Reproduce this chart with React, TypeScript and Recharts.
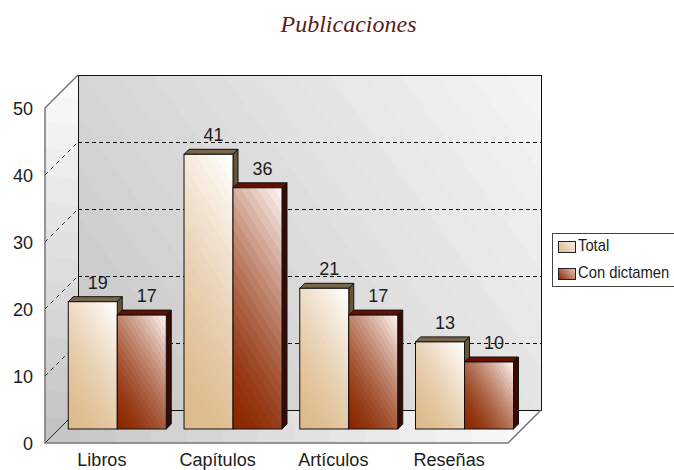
import { BarChart, Bar, XAxis, YAxis, CartesianGrid, Legend, LabelList } from "recharts"

const categories = ["Libros", "Capítulos", "Artículos", "Reseñas"]
const totalValues = [19, 41, 21, 13]
const dictamenValues = [17, 36, 17, 10]
const yTicks = [0, 10, 20, 30, 40, 50]

const data = categories.map((name, i) => ({ name, total: totalValues[i], dictamen: dictamenValues[i] }))

const W = 674
const H = 470
const AXIS_W = 45
const AXIS_H = 27
const margin = { top: 108, right: 166, bottom: 0, left: 0 }
const WALL = 33 // depth of the box
const SHIFT = 14 // bars sit inside the box
const BAR_DEPTH = 5
const FONT = "'Liberation Sans', Arial, sans-serif"
const INK = "#1c1c1c"

const left = AXIS_W
const right = W - margin.right
const top = margin.top
const bottom = H - AXIS_H

function hex(c: number[]) {
  return `rgb(${c.map((v) => Math.round(v)).join(",")})`
}

// banded stops, the original gradients show visible diagonal stripes
function bandStops(from: number[], to: number[], bands: number, gamma = 1) {
  const stops = []
  for (let i = 0; i < bands; i++) {
    const t = Math.pow(i / (bands - 1), gamma)
    const color = hex(from.map((v, k) => v + (to[k] - v) * t))
    stops.push(<stop key={`${i}a`} offset={i / bands} stopColor={color} />)
    stops.push(<stop key={`${i}b`} offset={(i + 1) / bands} stopColor={color} />)
  }
  return stops
}

function Box3D(props: any) {
  const { x, y, width, height, index, from, to, gamma, topColor, sideColor, prefix } = props
  const bx = x + SHIFT
  const by = y - SHIFT
  const id = `${prefix}-${index}`
  const len = (width * 1.6 + height) / 1.887
  return (
    <g>
      <defs>
        <linearGradient
          id={id}
          gradientUnits="userSpaceOnUse"
          x1={bx}
          y1={by + height}
          x2={bx + len * 0.848}
          y2={by + height - len * 0.53}
        >
          {bandStops(from, to, 24, gamma)}
        </linearGradient>
      </defs>
      <polygon
        points={`${bx},${by} ${bx + BAR_DEPTH},${by - BAR_DEPTH} ${bx + width + BAR_DEPTH},${by - BAR_DEPTH} ${bx + width},${by}`}
        fill={topColor}
        stroke="#111"
        strokeWidth={1}
      />
      <polygon
        points={`${bx + width},${by} ${bx + width + BAR_DEPTH},${by - BAR_DEPTH} ${bx + width + BAR_DEPTH},${by + height - BAR_DEPTH} ${bx + width},${by + height}`}
        fill={sideColor}
        stroke="#111"
        strokeWidth={1}
      />
      <rect x={bx} y={by} width={width} height={height} fill={`url(#${id})`} stroke="#111" strokeWidth={1} />
    </g>
  )
}

function ValueLabel(props: any) {
  const { x, y, width, value } = props
  return (
    <text x={x + width / 2 + SHIFT + 5} y={y - SHIFT - 13} textAnchor="middle" fontFamily={FONT} fontSize={18} fill={INK}>
      {value}
    </text>
  )
}

// the box behind the plot: back wall, side wall, floor, and the title
function BoxFrame() {
  return (
    <svg width={W} height={H} style={{ position: "absolute", left: 0, top: 0 }}>
      <defs>
        <linearGradient id="backWall" gradientUnits="userSpaceOnUse" x1={left + WALL} y1={bottom - WALL} x2={right + WALL} y2={top - WALL}>
          {bandStops([198, 198, 198], [244, 244, 244], 20)}
        </linearGradient>
        <linearGradient id="sideWall" gradientUnits="userSpaceOnUse" x1={left} y1={bottom} x2={left + WALL + 20} y2={top - WALL}>
          {bandStops([196, 196, 196], [250, 250, 250], 14)}
        </linearGradient>
        <linearGradient id="floorWall" gradientUnits="userSpaceOnUse" x1={left} y1={bottom} x2={right + WALL} y2={bottom - WALL}>
          {bandStops([198, 198, 198], [250, 250, 250], 14)}
        </linearGradient>
      </defs>
      <text x={348.5} y={32} textAnchor="middle" fontFamily="'Liberation Serif', serif" fontStyle="italic" fontSize={24} fill="#5a1c1c">
        Publicaciones
      </text>
      <rect x={left + WALL} y={top - WALL} width={right - left} height={bottom - top} fill="url(#backWall)" />
      <polygon points={`${left},${top} ${left + WALL},${top - WALL} ${left + WALL},${bottom - WALL} ${left},${bottom}`} fill="url(#sideWall)" />
      <polygon points={`${left},${bottom} ${right},${bottom} ${right + WALL},${bottom - WALL} ${left + WALL},${bottom - WALL}`} fill="url(#floorWall)" />
      <rect x={left + WALL + 0.5} y={top - WALL + 0.5} width={right - left} height={bottom - top} fill="none" stroke="#111" strokeWidth={1} />
      <line x1={left} y1={bottom} x2={left + WALL} y2={bottom - WALL} stroke="#222" />
      <polyline points={`${left + WALL},${top - WALL} ${left},${top} ${left},${bottom} ${right},${bottom} ${right + WALL},${bottom - WALL}`} fill="none" stroke="#777" strokeWidth={1.5} />
    </svg>
  )
}

// grid lines run along the side wall and the back wall
function wallGridLine(props: any) {
  const { x1, x2, y1, y2, index } = props
  if (y1 <= top + 1 || y1 >= bottom - 1) return <g key={index} />
  return (
    <g key={index}>
      <line x1={x1} y1={y1} x2={x1 + WALL} y2={y1 - WALL} stroke="#333" strokeDasharray="4 4" />
      <line x1={x1 + WALL} y1={y1 - WALL + 0.5} x2={x2 + WALL} y2={y2 - WALL + 0.5} stroke="#111" strokeDasharray="4 3" />
    </g>
  )
}

function LegendBox() {
  const swatch = (bg: string) => ({
    position: "absolute" as const,
    left: 5,
    width: 16,
    height: 10,
    border: "1px solid #222",
    background: bg,
  })
  const label = (t: number) => ({
    position: "absolute" as const,
    left: 25,
    top: t,
    fontFamily: FONT,
    fontSize: 17,
    lineHeight: "20px",
    color: INK,
    whiteSpace: "nowrap" as const,
    transform: "scaleX(0.87)",
    transformOrigin: "left center",
  })
  return (
    <div style={{ position: "relative", width: 130, height: 54, boxSizing: "border-box", border: "1px solid #444", background: "#fff" }}>
      <div style={{ ...swatch("linear-gradient(45deg,#ddba8c,#f7efe4)"), top: 7 }} />
      <div style={label(2)}>Total</div>
      <div style={{ ...swatch("linear-gradient(45deg,#8b2800,#e8c4b8)"), top: 34 }} />
      <div style={label(29)}>Con dictamen</div>
    </div>
  )
}

function xTick(props: any) {
  const { x, y, payload } = props
  return (
    <text x={x - 1} y={y + 22.5} textAnchor="middle" fontFamily={FONT} fontSize={18} fill={INK}>
      {payload.value}
    </text>
  )
}

function yTick(props: any) {
  const { x, y, payload } = props
  return (
    <text x={x - 12} y={y + 7} textAnchor="end" fontFamily={FONT} fontSize={18} fill={INK}>
      {payload.value}
    </text>
  )
}

export default function App() {
  return (
    <div style={{ position: "absolute", left: 0, top: 0, width: W, height: H, overflow: "hidden", background: "#fff" }}>
      <BoxFrame />
      <div style={{ position: "absolute", left: 0, top: 0 }}>
        <BarChart width={W} height={H} data={data} margin={margin} barCategoryGap="8%" barGap={0}>
          <CartesianGrid horizontal={wallGridLine} vertical={false} />
          <XAxis dataKey="name" axisLine={false} tickLine={false} tickSize={0} tickMargin={0} interval={0} height={AXIS_H} tick={xTick} />
          <YAxis domain={[0, 50]} ticks={yTicks} axisLine={false} tickLine={false} tickSize={0} tickMargin={0} width={AXIS_W} tick={yTick} />
          <Legend layout="vertical" align="center" verticalAlign="middle" wrapperStyle={{ left: 552, top: 233, width: 130, height: 54 }} content={() => <LegendBox />} />
          <Bar
            dataKey="total"
            isAnimationActive={false}
            shape={(p: any) => <Box3D {...p} prefix="total" from={[221, 186, 140]} to={[255, 255, 255]} gamma={1.5} topColor="#7a664a" sideColor="#665539" />}
          >
            <LabelList dataKey="total" content={ValueLabel} />
          </Bar>
          <Bar
            dataKey="dictamen"
            isAnimationActive={false}
            shape={(p: any) => <Box3D {...p} prefix="dictamen" from={[139, 40, 0]} to={[252, 242, 238]} gamma={1.5} topColor="#651000" sideColor="#3e0800" />}
          >
            <LabelList dataKey="dictamen" content={ValueLabel} />
          </Bar>
        </BarChart>
      </div>
    </div>
  )
}
